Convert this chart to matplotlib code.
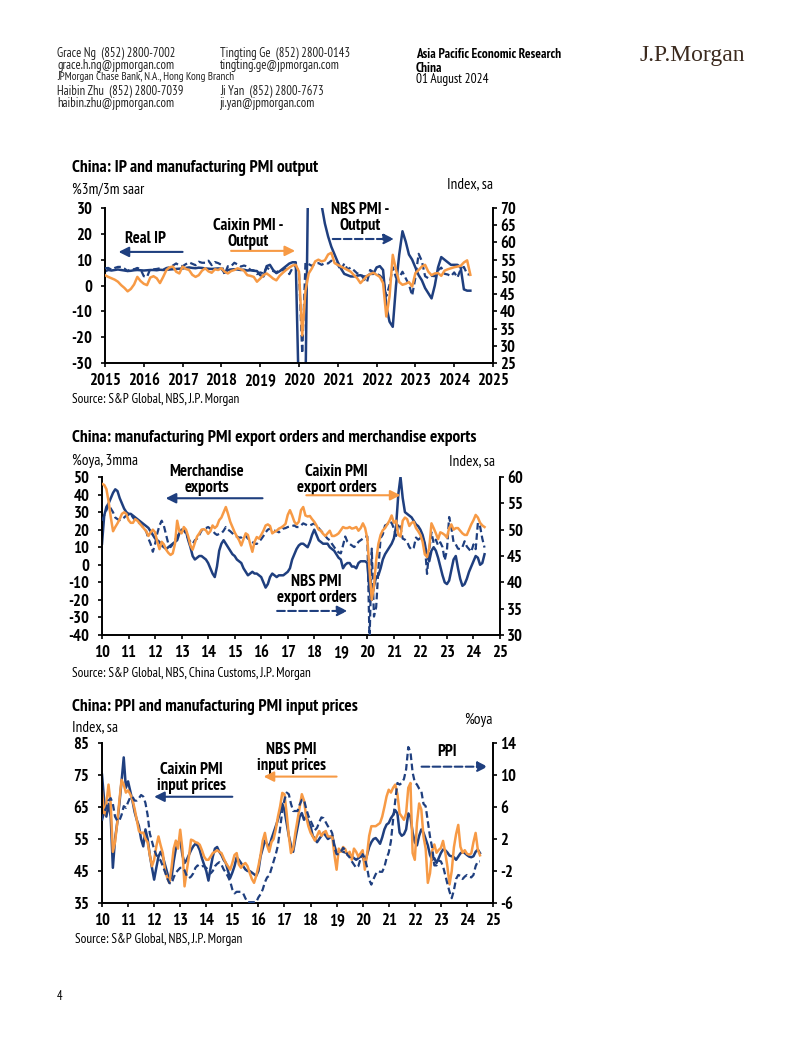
import matplotlib
matplotlib.use("Agg")
import matplotlib.pyplot as plt
import numpy as np

plt.rcParams['font.family'] = ['PT Sans Narrow', 'Liberation Sans', 'DejaVu Sans']
plt.rcParams['axes.unicode_minus'] = False

NAVY = '#1f3f7f'
ORANGE = '#f79a45'

# ---------------------------------------------------------------------------
# Chart 1: IP and manufacturing PMI output, monthly Jan-2015 .. Jun-2024
# ---------------------------------------------------------------------------
real_ip = [
    5.5, 6.0, 5.8, 6.0, 6.2, 6.0, 5.8, 5.6, 5.7, 5.9, 6.0, 5.9,
    5.8, 5.9, 6.0, 6.0, 5.9, 6.1, 6.0, 6.1, 6.2, 6.3, 6.4, 6.5,
    6.6, 6.8, 7.0, 6.8, 6.7, 6.9, 6.8, 6.6, 6.5, 6.4, 6.5, 6.6,
    6.5, 5.0, 6.0, 6.2, 6.3, 6.2, 6.0, 6.1, 5.8, 5.9, 5.7, 5.6,
    4.0, 3.5, 7.5, 8.0, 6.0, 4.8, 5.5, 6.5, 7.5, 8.5, 9.0, 9.0,
    -45, -60, -40, 60, 80, 50, 45, 31, 24, 19, 15, 12,
    9.0, 6.5, 4.5, 4.0, 3.5, 3.5, 3.8, 4.0, 3.5, 3.5, 4.5, 4.5,
    7.0, 7.5, 6.0, -8, -14, -16, 0.0, 12, 21, 17, 12, 10,
    7.0, 4.0, 2.0, -1, -3, -5, 0.0, 7.0, 11, 10, 9.0, 8.0,
    8.0, 8.0, 7.0, -1.5, -2.0, -2.0]
caixin_output = [
    50.5, 50.0, 49.6, 49.2, 48.6, 47.6, 46.8, 45.8, 46.5, 47.8, 50.0, 48.8,
    48.0, 47.6, 49.8, 50.2, 49.6, 48.2, 50.0, 52.0, 52.8, 53.0, 51.5, 51.0,
    53.0, 52.3, 52.0, 50.6, 50.0, 50.5, 51.8, 52.5, 51.6, 51.2, 52.2, 52.0,
    52.5, 51.5, 51.0, 51.7, 52.0, 52.5, 52.2, 51.8, 50.5, 50.3, 50.0, 48.6,
    49.5, 50.5, 51.0, 50.3, 49.5, 49.0, 50.3, 51.2, 52.0, 52.7, 53.3, 53.5,
    51.5, 33.0, 46.0, 51.0, 52.5, 54.5, 55.0, 54.5, 54.8, 56.5, 57.0, 54.0,
    53.5, 53.0, 52.5, 52.0, 51.5, 50.5, 49.6, 48.2, 49.2, 50.3, 50.8, 51.2,
    50.6, 50.0, 48.2, 38.5, 44.3, 56.4, 52.0, 48.5, 47.7, 48.0, 48.5, 47.2,
    51.1, 52.0, 53.0, 53.5, 51.5, 50.5, 51.0, 51.1, 50.3, 51.8, 52.2, 52.5,
    52.8, 53.0, 53.2, 54.2, 54.8, 50.6]
nbs_output = [
    52.5, 52.6, 52.1, 52.6, 52.9, 52.9, 52.4, 51.7, 52.3, 52.2, 52.6, 52.2,
    50.2, 50.0, 52.3, 52.2, 52.3, 52.5, 52.1, 52.6, 52.8, 53.3, 53.9, 53.3,
    53.1, 53.7, 54.2, 53.8, 53.4, 54.4, 54.1, 54.1, 54.7, 53.4, 54.3, 54.0,
    53.5, 50.7, 53.1, 53.1, 54.1, 53.6, 53.0, 53.3, 53.0, 52.0, 51.9, 50.8,
    51.3, 51.0, 52.7, 52.1, 51.7, 51.3, 52.1, 51.9, 52.3, 50.8, 52.6, 53.2,
    51.3, 27.8, 54.1, 53.7, 53.2, 53.9, 54.0, 53.5, 54.0, 53.9, 54.7, 54.2,
    53.5, 51.9, 53.9, 52.2, 52.7, 51.9, 51.0, 50.9, 49.5, 48.4, 52.0, 51.4,
    50.9, 50.4, 49.5, 44.4, 47.7, 52.8, 49.8, 49.8, 51.5, 49.6, 47.8, 44.6,
    49.8, 56.7, 54.6, 50.2, 49.6, 50.3, 50.2, 51.9, 52.7, 50.9, 50.7, 50.2,
    51.3, 49.8, 52.2, 52.9, 50.8, 50.6]

# ---------------------------------------------------------------------------
# Chart 2: PMI export orders and merchandise exports, Jan-2010 .. Jun-2024
# ---------------------------------------------------------------------------
merch_exports = [
    12, 28, 33, 35, 38, 41, 43, 42, 38, 35, 32, 30,
    29, 29, 28, 27, 26, 25, 24, 23, 22, 21, 19, 17,
    15, 14, 13, 11, 10, 9, 10, 11, 12, 13, 14, 18,
    20, 20, 19, 14, 10, 5, 3, 4, 5, 5, 4, 3,
    1, -2, -5, -7, -1, 8, 12, 14, 12, 10, 8, 6,
    5, 3, 2, 1, -2, -4, -6, -5, -4, -5, -5, -6,
    -7, -10, -13, -11, -7, -5, -6, -7, -6, -6, -6, -5,
    -4, -2, 3, 6, 9, 11, 12, 12, 11, 10, 13, 17,
    20, 17, 14, 13, 12, 12, 12, 10, 9, 8, 6, 4,
    3, -2, 0, 1, 1, -1, -1, -2, 1, 2, 2, 2,
    1, -15, -20, -12, -7, -6, -2, 3, 6, 8, 10, 12,
    15, 22, 40, 50, 38, 30, 29, 28, 27, 25, 23, 22,
    20, 17, 12, 5, 2, 8, 10, 8, 4, -1, -6, -10,
    -11, -9, -3, 3, 5, -2, -8, -12, -11, -8, -4, -1,
    2, 5, 4, 0, 1, 6]
caixin_export = [
    58.7, 58.5, 57.7, 55.3, 52.3, 49.7, 50.5, 51.2, 52.0, 53.0, 53.3, 53.0,
    51.8, 51.3, 51.3, 52.0, 51.7, 51.2, 50.7, 50.2, 49.7, 48.8, 49.5, 50.0,
    49.5, 47.7, 46.3, 47.7, 47.2, 46.2, 45.6, 45.2, 45.5, 47.3, 51.7, 49.7,
    49.3, 50.5, 50.0, 48.7, 47.0, 46.2, 47.5, 48.7, 49.3, 50.0, 50.1, 49.9,
    49.2, 49.7, 50.8, 50.3, 50.7, 51.8, 52.3, 53.3, 54.3, 53.0, 51.5, 50.5,
    49.5, 48.7, 48.0, 47.0, 48.2, 49.3, 49.0, 47.3, 45.8, 47.7, 48.6, 48.3,
    49.0, 49.8, 50.8, 51.0, 50.7, 49.3, 49.6, 49.8, 50.2, 50.4, 50.7, 51.1,
    52.8, 53.7, 52.7, 51.5, 51.0, 51.5, 53.7, 54.3, 52.7, 52.5, 52.6, 52.0,
    51.5, 50.8, 50.0, 49.8, 49.2, 48.8, 49.3, 49.8, 48.8, 48.8, 49.0, 49.3,
    49.9, 50.5, 50.3, 50.3, 50.5, 50.2, 50.3, 50.5, 49.8, 50.3, 51.2, 50.3,
    48.3, 42.3, 36.7, 39.3, 44.2, 47.3, 49.0, 49.9, 50.3, 51.0, 51.7, 52.7,
    51.3, 51.7, 49.0, 48.7, 51.7, 52.3, 52.0, 50.7, 51.3, 51.5, 50.3, 49.7,
    49.0, 47.7, 45.3, 44.8, 46.5, 51.2, 50.3, 49.3, 48.2, 49.5, 49.3, 49.0,
    48.5, 50.3, 51.0, 50.0, 50.3, 50.3, 49.8, 49.3, 49.0, 49.0, 50.0, 51.0,
    51.8, 52.8, 52.3, 51.3, 50.8, 50.5]
nbs_export = [
    51.7, 52.7, 53.7, 54.7, 54.0, 53.3, 52.3, 52.0, 51.8, 52.0, 52.3, 52.7,
    52.8, 53.0, 52.3, 51.8, 51.5, 51.2, 50.8, 50.2, 49.7, 48.3, 47.3, 45.8,
    47.3, 49.3, 50.8, 51.7, 50.7, 49.0, 47.3, 46.7, 47.2, 48.0, 48.7, 49.3,
    49.7, 49.9, 49.2, 48.3, 47.7, 47.3, 48.0, 48.3, 49.0, 49.8, 50.2, 50.3,
    50.5, 50.2, 49.9, 49.3, 49.0, 49.2, 49.3, 49.8, 50.5, 50.0, 49.7, 49.3,
    48.8, 48.7, 48.5, 48.5, 49.0, 48.8, 48.3, 48.0, 47.7, 47.3, 47.3, 47.7,
    48.2, 48.8, 49.5, 50.0, 50.2, 49.8, 49.8, 49.7, 49.5, 49.8, 50.2, 50.3,
    50.5, 50.6, 50.7, 50.8, 50.5, 50.5, 50.8, 51.2, 51.0, 50.8, 50.8, 51.0,
    51.2, 50.7, 50.3, 49.8, 49.3, 48.8, 48.3, 48.0, 47.3, 46.7, 46.1, 45.7,
    45.5, 47.0, 48.7, 47.7, 47.3, 47.0, 46.7, 47.0, 47.7, 48.0, 48.3, 48.7,
    48.7, 28.7, 46.4, 33.5, 35.3, 42.6, 48.4, 49.1, 50.8, 51.0, 51.5, 51.3,
    50.2, 48.8, 51.2, 50.4, 48.3, 48.1, 47.7, 46.7, 46.2, 46.6, 48.5, 48.1,
    48.4, 48.6, 47.2, 41.6, 46.2, 49.5, 47.4, 48.1, 47.0, 47.6, 46.7, 44.2,
    46.1, 52.4, 50.4, 47.6, 47.2, 46.4, 46.3, 46.7, 47.8, 46.8, 46.3, 45.8,
    47.2, 46.3, 51.3, 50.6, 48.3, 46.6]

# ---------------------------------------------------------------------------
# Chart 3: PPI and PMI input prices, Jan-2010 .. Jul-2024
# ---------------------------------------------------------------------------
caixin_input = [
    75.1, 67, 62, 66, 62, 46, 55, 60, 66, 73, 80.5, 71,
    73, 70, 67, 63.5, 61, 59, 55, 52.7, 58, 55, 50, 46,
    42.3, 46, 49.5, 51, 49.5, 47, 44.5, 42, 43, 48, 52, 53.8,
    55, 50, 47.5, 48.5, 50, 51.5, 52.7, 53.5, 53, 51.5, 49, 47,
    45, 42, 46, 49.5, 52, 52.5, 51, 50, 48.5, 47.5, 45, 42.8,
    44.5, 46.5, 49.3, 48.5, 47.5, 46.5, 45.5, 45, 45, 44.5, 44, 43.5,
    45, 49.6, 52, 54.5, 53.5, 52.5, 55, 57, 59, 61, 63.5, 66,
    64, 60, 56, 53, 51, 55, 58.5, 62, 63.1, 61, 62, 60.5,
    59, 56, 55, 54, 55, 56, 57, 56, 55, 55.5, 56, 53,
    50.6, 51, 51.5, 51, 50.8, 50.5, 50, 49.6, 49, 48.5, 49, 49.5,
    49.5, 47.5, 50, 52.5, 54, 55, 55.3, 54.5, 53.5, 55.5, 58, 59.5,
    60, 61.5, 62.5, 64, 63, 57, 56, 56.5, 58, 63, 62, 57,
    54, 53, 56, 58, 57, 55, 53, 50, 48.5, 49, 47.5, 49,
    50.6, 51.7, 51.5, 50.8, 49.8, 49.6, 49.3, 48.5, 49.5, 50.5, 51, 50.6,
    50, 49.5, 49.3, 49.6, 51, 51.7, 50.6]
nbs_input = [
    69.9, 62.5, 66, 72, 66, 51, 54, 60, 67, 73.5, 72, 69.5,
    70.2, 69, 67.3, 64.5, 61, 57.5, 56.9, 57, 55, 54, 50, 46.5,
    48.5, 52.7, 55.8, 53, 50.6, 45, 43, 41.3, 46, 52, 54.5, 52,
    57.9, 52, 40.2, 45, 49.5, 54.8, 54.5, 54, 53.8, 53.2, 51.5, 49.5,
    48.5, 48.5, 49.5, 50.6, 51, 51.5, 51, 50.6, 49, 47.5, 46.5, 45.4,
    47.5, 50, 50.6, 47, 46, 47, 47.5, 46.5, 44.4, 42.5, 41.3, 43.5,
    46.5, 50, 54.5, 56.9, 53, 51, 54, 55, 58, 62, 65.2, 69.4,
    69, 63, 56, 50.6, 52, 56.9, 61, 65, 69, 67, 62, 59,
    57, 55.8, 54.5, 56, 57.5, 56, 57, 57.5, 55.8, 55.8, 55.8, 50,
    45.4, 52, 51, 52.5, 51.8, 50, 51, 48.5, 52, 51, 49.5, 50.5,
    51.5, 45.4, 50, 56, 59, 59, 59, 59.5, 60, 62, 65, 68.3,
    70.4, 69.5, 71, 72, 69, 63, 62, 61, 63, 71, 72.5, 50.6,
    48.5, 60, 66.1, 64.2, 55.8, 52, 41.3, 44.3, 51.3, 53.3, 50.7, 51.6,
    52.2, 54.4, 50.9, 46.4, 40.8, 45.0, 52.4, 56.5, 59.4, 52.6, 50.7, 51.5,
    50.4, 50.1, 50.5, 54.0, 56.9, 51.7, 49.9]
ppi = [
    4.3, 5.4, 5.9, 6.8, 7.1, 6.4, 4.8, 4.3, 4.3, 5.0, 6.1, 5.9,
    6.6, 7.2, 7.3, 6.8, 6.8, 7.1, 7.5, 7.3, 6.5, 5.0, 2.7, 1.7,
    0.7, 0.0, -0.3, -0.7, -1.4, -2.1, -2.9, -3.5, -3.6, -2.8, -2.2, -1.9,
    -1.6, -1.6, -1.9, -2.6, -2.9, -2.7, -2.3, -1.6, -1.3, -1.5, -1.4, -1.4,
    -1.6, -2.0, -2.3, -2.0, -1.4, -1.1, -0.9, -1.2, -1.8, -2.2, -2.7, -3.3,
    -4.3, -4.8, -4.6, -4.6, -4.6, -4.8, -5.4, -5.9, -5.9, -5.9, -5.9, -5.9,
    -5.3, -4.9, -4.3, -3.4, -2.8, -2.6, -1.7, -0.8, 0.1, 1.2, 3.3, 5.5,
    6.9, 7.8, 7.6, 6.4, 5.5, 5.5, 5.5, 6.3, 6.9, 6.9, 5.8, 4.9,
    4.3, 3.7, 3.1, 3.4, 4.1, 4.7, 4.6, 4.1, 3.6, 3.3, 2.7, 0.9,
    0.1, 0.1, 0.4, 0.9, 0.6, 0.0, -0.3, -0.8, -1.2, -1.6, -1.4, -0.5,
    0.1, -0.4, -1.5, -3.1, -3.7, -3.0, -2.4, -2.0, -2.1, -2.1, -1.5, -0.4,
    0.3, 1.7, 4.4, 6.8, 9.0, 8.8, 9.0, 9.5, 10.7, 13.5, 12.9, 10.3,
    9.1, 8.8, 8.3, 8.0, 6.4, 6.1, 4.2, 2.3, 0.9, -1.3, -1.3, -0.7,
    -0.8, -1.4, -2.5, -3.6, -4.6, -5.4, -4.4, -3.0, -2.5, -2.6, -3.0, -2.7,
    -2.5, -2.7, -2.8, -2.5, -1.4, -0.8, -0.8]

# ---------------------------------------------------------------------------
W, H = 802, 1037
fig = plt.figure(figsize=(W / 100, H / 100), dpi=100)


def fx(px):
    return px / W


def fy(py):
    return 1 - py / H


def box(l, t, r, b):
    return [fx(l), fy(b), (r - l) / W, (b - t) / H]


def months(start, n):
    return start + np.arange(n) / 12.0


def style(ax, axr, x0, x1, short, yl, yr):
    ax.set_xlim(x0, x1)
    ax.set_xticks(range(x0, x1 + 1))
    ax.set_xticklabels([f'{y % 100:02d}' if short else str(y) for y in range(x0, x1 + 1)])
    ax.set_ylim(yl[0], yl[-1])
    ax.set_yticks(yl)
    axr.set_ylim(yr[0], yr[-1])
    axr.set_yticks(yr)
    for a in (ax, axr):
        a.spines['top'].set_visible(False)
        for s in a.spines.values():
            s.set_linewidth(1.4)
        for lab in a.get_xticklabels() + a.get_yticklabels():
            lab.set_fontweight('bold')
            lab.set_fontsize(12)
    ax.spines['right'].set_visible(False)
    axr.spines['left'].set_visible(False)
    axr.spines['bottom'].set_visible(False)
    ax.tick_params(axis='x', direction='out', length=3, width=1.2, pad=4)
    ax.tick_params(axis='y', direction='out', length=3, width=1.2, pad=6)
    axr.tick_params(axis='y', direction='out', length=3, width=1.2, pad=2)


def arrow(axr, ax, x0, x1, y, color, ls='-'):
    axr.annotate('', xy=(x1, y), xytext=(x0, y), xycoords=ax.transData,
                 textcoords=ax.transData,
                 arrowprops=dict(arrowstyle='-|>', color=color, lw=1.5,
                                 linestyle=ls, mutation_scale=15,
                                 shrinkA=0, shrinkB=0))


def label(axr, ax, x, y, s):
    axr.text(x, y, s, transform=ax.transData, ha='center', va='center',
             fontsize=12, fontweight='bold', linespacing=1.0)


# ---------------- header ----------------
hdr = dict(fontsize=9, va='center', color='#222222')
fig.text(fx(57), fy(53), 'Grace Ng  (852) 2800-7002', **hdr)
fig.text(fx(57), fy(65), 'grace.h.ng@jpmorgan.com', **hdr)
fig.text(fx(57), fy(77), 'JPMorgan Chase Bank, N.A., Hong Kong Branch', fontsize=8,
         va='center', color='#222222')
fig.text(fx(57), fy(91), 'Haibin Zhu  (852) 2800-7039', **hdr)
fig.text(fx(57), fy(103), 'haibin.zhu@jpmorgan.com', **hdr)
fig.text(fx(220), fy(53), 'Tingting Ge  (852) 2800-0143', **hdr)
fig.text(fx(220), fy(65), 'tingting.ge@jpmorgan.com', **hdr)
fig.text(fx(220), fy(91), 'Ji Yan  (852) 2800-7673', **hdr)
fig.text(fx(220), fy(103), 'ji.yan@jpmorgan.com', **hdr)
fig.text(fx(416), fy(54), 'Asia Pacific Economic Research', fontsize=9.5,
         fontweight='bold', va='center')
fig.text(fx(416), fy(68), 'China', fontsize=9.5, fontweight='bold', va='center')
fig.text(fx(416), fy(80), '01 August 2024', fontsize=9.5, va='center')
fig.text(fx(640), fy(56), 'J.P.Morgan', fontsize=17, family='Liberation Serif',
         color='#3b2a1e', va='center')
fig.text(fx(57), fy(996), '4', fontsize=9, va='center')

# ---------------- chart 1 ----------------
ax1 = fig.add_axes(box(105, 208, 493, 363))
ax1r = ax1.twinx()
ax1.plot(months(2015, len(real_ip)), real_ip, color=NAVY, lw=1.8)
ax1r.plot(months(2015, len(nbs_output)), nbs_output, color=NAVY, lw=1.6, ls=(0, (3, 1.6)))
ax1r.plot(months(2015, len(caixin_output)), caixin_output, color=ORANGE, lw=1.8)
style(ax1, ax1r, 2015, 2025, False, list(range(-30, 31, 10)), list(range(25, 71, 5)))
label(ax1r, ax1, 2016.05, 18.0, 'Real IP')
arrow(ax1r, ax1, 2017.0, 2015.35, 13.0, NAVY)
label(ax1r, ax1, 2018.68, 19.8, 'Caixin PMI -\nOutput')
arrow(ax1r, ax1, 2018.25, 2019.9, 13.4, ORANGE)
label(ax1r, ax1, 2021.57, 26.0, 'NBS PMI -\nOutput')
arrow(ax1r, ax1, 2020.87, 2022.45, 18.0, NAVY, '--')
fig.text(fx(72), fy(168), 'China: IP and manufacturing PMI output', fontsize=12.5,
         fontweight='bold', va='center')
fig.text(fx(72), fy(190), '%3m/3m saar', fontsize=11, va='center')
fig.text(fx(493), fy(184), 'Index, sa', fontsize=11, va='center', ha='right')
fig.text(fx(72), fy(399), 'Source: S&P Global, NBS, J.P. Morgan', fontsize=9.5, va='center')

# ---------------- chart 2 ----------------
ax2 = fig.add_axes(box(102, 477, 500, 635))
ax2r = ax2.twinx()
ax2.plot(months(2010, len(merch_exports)), merch_exports, color=NAVY, lw=1.8)
ax2r.plot(months(2010, len(nbs_export)), nbs_export, color=NAVY, lw=1.6, ls=(0, (3, 1.6)))
ax2r.plot(months(2010, len(caixin_export)), caixin_export, color=ORANGE, lw=1.8)
style(ax2, ax2r, 2010, 2025, True, list(range(-40, 51, 10)), list(range(30, 61, 5)))
label(ax2r, ax2, 2013.94, 48.5, 'Merchandise\nexports')
arrow(ax2r, ax2, 2016.05, 2012.4, 37.9, NAVY)
label(ax2r, ax2, 2018.84, 48.5, 'Caixin PMI\nexport orders')
arrow(ax2r, ax2, 2017.7, 2021.25, 39.6, ORANGE)
label(ax2r, ax2, 2018.08, -14.4, 'NBS PMI\nexport orders')
arrow(ax2r, ax2, 2016.6, 2019.25, -26.3, NAVY, '--')
fig.text(fx(72), fy(438), 'China: manufacturing PMI export orders and merchandise exports',
         fontsize=12.5, fontweight='bold', va='center')
fig.text(fx(72), fy(461), '%oya, 3mma', fontsize=11, va='center')
fig.text(fx(495), fy(461), 'Index, sa', fontsize=11, va='center', ha='right')
fig.text(fx(72), fy(673), 'Source: S&P Global, NBS, China Customs, J.P. Morgan',
         fontsize=9.5, va='center')

# ---------------- chart 3 ----------------
ax3 = fig.add_axes(box(102, 743, 493, 903))
ax3r = ax3.twinx()
ax3.plot(months(2010, len(caixin_input)), caixin_input, color=NAVY, lw=1.8)
ax3.plot(months(2010, len(nbs_input)), nbs_input, color=ORANGE, lw=1.8)
ax3r.plot(months(2010, len(ppi)), ppi, color=NAVY, lw=1.6, ls=(0, (3, 1.6)))
style(ax3, ax3r, 2010, 2025, True, list(range(35, 86, 10)), list(range(-6, 15, 4)))
label(ax3r, ax3, 2013.44, 74.2, 'Caixin PMI\ninput prices')
arrow(ax3r, ax3, 2015.0, 2012.0, 68.2, NAVY)
label(ax3r, ax3, 2017.28, 80.4, 'NBS PMI\ninput prices')
arrow(ax3r, ax3, 2019.0, 2016.2, 74.5, ORANGE)
label(ax3r, ax3, 2023.22, 82.3, 'PPI')
arrow(ax3r, ax3, 2022.26, 2024.8, 77.6, NAVY, '--')
fig.text(fx(72), fy(707), 'China: PPI and manufacturing PMI input prices', fontsize=12.5,
         fontweight='bold', va='center')
fig.text(fx(72), fy(727), 'Index, sa', fontsize=11, va='center')
fig.text(fx(493), fy(720), '%oya', fontsize=11, va='center', ha='right')
fig.text(fx(75), fy(939), 'Source: S&P Global, NBS, J.P. Morgan', fontsize=9.5, va='center')

fig.savefig('out.png', dpi=100)
